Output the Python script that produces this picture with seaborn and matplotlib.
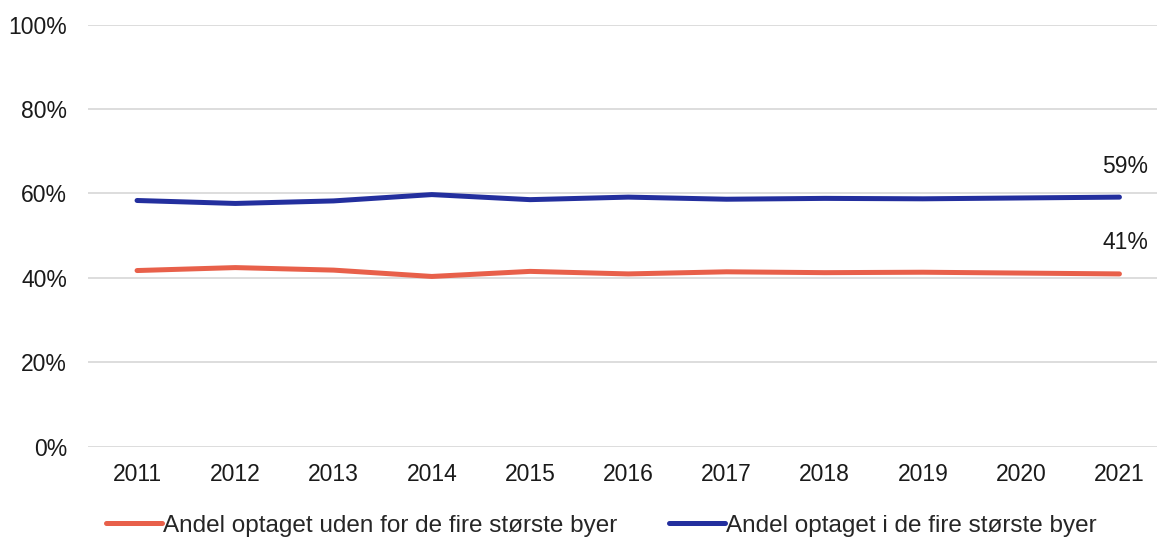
import numpy as np
import pandas as pd
import seaborn as sns
import matplotlib.pyplot as plt
from matplotlib.ticker import PercentFormatter

# data
years = ['2011', '2012', '2013', '2014', '2015', '2016', '2017', '2018', '2019', '2020', '2021']
uden_for = [41.7, 42.4, 41.8, 40.3, 41.5, 40.9, 41.4, 41.2, 41.3, 41.1, 40.9]
i_byer = [58.3, 57.6, 58.2, 59.7, 58.5, 59.1, 58.6, 58.8, 58.7, 58.9, 59.1]
labels = ['Andel optaget uden for de fire største byer', 'Andel optaget i de fire største byer']
colors = ['#E8604A', '#232F9E']

df = pd.DataFrame({'Year': years * 2,
                   'value': uden_for + i_byer,
                   'series': [labels[0]] * len(years) + [labels[1]] * len(years)})

sns.set_theme(style='white')
plt.rcParams['font.family'] = ['Liberation Sans', 'DejaVu Sans']

fig = plt.figure(figsize=(11.57, 5.39), dpi=100)
ax = fig.add_axes([0.076, 0.1716, 0.934, 0.7829])

sns.lineplot(data=df, x='Year', y='value', hue='series', palette=colors,
             linewidth=3.6, solid_capstyle='round', ax=ax, legend=False)

ax.set_ylim(0, 100)
ax.set_xlim(-0.5, len(years) - 0.5)
ax.set_yticks([0, 20, 40, 60, 80, 100])
ax.yaxis.set_major_formatter(PercentFormatter(decimals=0))
ax.yaxis.grid(True, color='#DADADA', linewidth=1.3)
ax.set_axisbelow(True)
for s in ax.spines.values():
    s.set_visible(False)
ax.set_xlabel('')
ax.set_ylabel('')
ax.tick_params(axis='both', labelsize=16.5, colors='#1a1a1a', length=0)
ax.tick_params(axis='x', pad=12)
ax.tick_params(axis='y', pad=15)

# end labels
ax.annotate(f'{i_byer[-1]:.0f}%', (len(years) - 1, i_byer[-1]), xytext=(4, 14),
            textcoords='offset points', ha='center', va='bottom', fontsize=16.5, color='#1a1a1a')
ax.annotate(f'{uden_for[-1]:.0f}%', (len(years) - 1, uden_for[-1]), xytext=(4, 14),
            textcoords='offset points', ha='center', va='bottom', fontsize=16.5, color='#1a1a1a')

handles = [plt.Line2D([0], [0], color=c, linewidth=3.6, solid_capstyle='round') for c in colors]
fig.legend(handles, labels, loc='lower center', bbox_to_anchor=(0.5195, -0.036), ncol=2,
           frameon=False, fontsize=17.5, handlelength=2.3, handletextpad=0.05, columnspacing=2.13)

plt.savefig('out.png', dpi=100)
